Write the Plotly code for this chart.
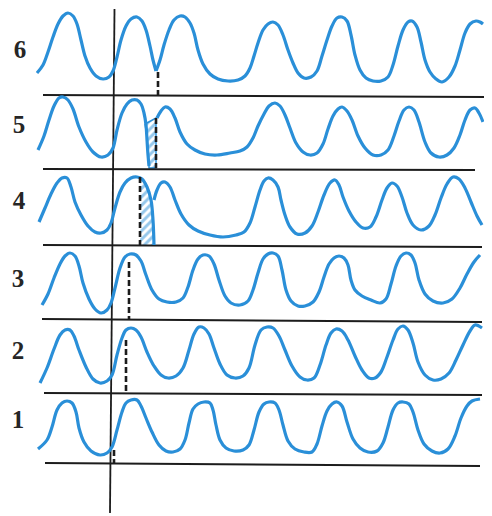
import plotly.graph_objects as go

# ---------------- data (drawing units) ----------------
row_labels = ["1", "2", "3", "4", "5", "6"]
label_x = [18, 18, 18, 19, 19, 20]
label_y = [422, 353, 281, 203, 127, 52]

# baselines: (x0, y0) -> (x1, y1) per row 1..6
base_x0 = [45, 44, 42, 43, 43, 43]
base_y0 = [463, 393, 319, 245, 169, 95]
base_x1 = [480, 482, 482, 482, 475, 488]
base_y1 = [466, 395, 322, 247, 170, 97]

# dashed phase markers
mark_x = [114, 126, 129, 140, 156, 158]
mark_top = [450, 340, 262, 177, 118, 72]
mark_bot = [463, 392, 319, 245, 168, 95]

# vertical reference line
vline_x = [114.5, 110]
vline_y = [9, 513]

# ---- waveforms ----
r1_x = [38, 47, 52, 57, 62, 67, 72, 76, 79, 84, 91, 100, 107, 112, 117, 122, 126, 131, 137, 141, 146, 152, 159, 166, 173, 180, 185, 189, 193, 198, 204, 210, 213, 216, 220, 226, 234, 243, 249, 254, 259, 264, 269, 275, 279, 283, 288, 295, 304, 312, 317, 322, 327, 332, 337, 342, 347, 353, 360, 368, 377, 383, 388, 393, 398, 403, 409, 413, 418, 424, 432, 440, 448, 455, 461, 467, 472, 480]
r1_y = [449, 440, 427, 410, 403, 401, 403, 412, 428, 442, 451, 455, 453, 447, 430, 412, 403, 400, 400, 406, 418, 432, 445, 451, 452, 449, 440, 423, 409, 404, 402, 403, 410, 425, 440, 448, 451, 450, 445, 430, 412, 404, 402, 403, 410, 425, 441, 449, 452, 452, 444, 426, 411, 404, 402, 406, 422, 439, 448, 452, 451, 443, 427, 410, 403, 402, 404, 412, 430, 444, 451, 453, 449, 436, 418, 406, 401, 399]

r2_x = [40, 47, 54, 60, 65, 70, 74, 79, 86, 93, 100, 107, 112, 117, 122, 126, 131, 136, 141, 147, 154, 161, 168, 176, 183, 189, 194, 199, 204, 209, 214, 220, 227, 235, 243, 249, 255, 261, 267, 273, 279, 285, 292, 300, 307, 314, 320, 326, 331, 336, 342, 348, 355, 362, 369, 375, 381, 387, 393, 398, 403, 408, 413, 418, 425, 433, 441, 449, 456, 463, 470, 475, 482]
r2_y = [383, 368, 349, 335, 330, 330, 336, 350, 367, 379, 383, 381, 375, 355, 338, 330, 328, 330, 337, 352, 366, 375, 378, 376, 368, 350, 334, 327, 328, 334, 348, 364, 375, 378, 376, 368, 345, 330, 327, 328, 336, 350, 366, 377, 380, 378, 365, 345, 333, 329, 331, 340, 356, 370, 378, 378, 372, 357, 340, 329, 326, 330, 343, 362, 375, 380, 379, 373, 360, 345, 331, 325, 328]

r3_x = [42, 48, 54, 60, 65, 70, 75, 79, 83, 89, 95, 101, 107, 111, 115, 120, 125, 130, 136, 141, 146, 152, 159, 167, 176, 183, 188, 193, 198, 203, 209, 214, 219, 225, 231, 240, 248, 253, 258, 263, 268, 273, 278, 282, 286, 291, 298, 305, 313, 319, 324, 329, 334, 339, 344, 348, 351, 355, 362, 371, 380, 386, 391, 396, 401, 406, 411, 415, 419, 425, 433, 443, 452, 460, 467, 474, 480]
r3_y = [305, 294, 278, 264, 256, 253, 256, 266, 283, 299, 309, 313, 310, 303, 288, 268, 257, 254, 255, 261, 275, 290, 299, 302, 302, 298, 287, 270, 259, 255, 256, 264, 280, 296, 303, 305, 301, 290, 273, 259, 254, 253, 256, 270, 290, 301, 306, 306, 302, 292, 277, 264, 258, 256, 258, 265, 280, 290, 296, 300, 303, 299, 284, 266, 256, 253, 255, 263, 280, 294, 301, 303, 299, 288, 274, 262, 255]

r4a_x = [39, 45, 51, 57, 62, 67, 71, 75, 81, 88, 95, 101, 107, 111, 115, 120, 125, 131, 137, 142, 147, 151, 153, 154]
r4a_y = [222, 208, 194, 183, 178, 178, 187, 202, 215, 226, 232, 233, 230, 223, 208, 192, 183, 178, 177, 179, 187, 200, 220, 245]
r4b_x = [154, 157, 161, 165, 170, 175, 181, 189, 198, 210, 223, 236, 244, 250, 255, 260, 264, 268, 273, 278, 281, 285, 290, 297, 305, 312, 318, 324, 330, 335, 339, 343, 349, 356, 363, 370, 376, 382, 387, 392, 397, 402, 407, 413, 421, 429, 435, 441, 447, 453, 459, 465, 471, 477, 482]
r4b_y = [200, 190, 183, 182, 187, 200, 214, 225, 231, 235, 237, 235, 232, 223, 207, 190, 181, 178, 180, 187, 200, 215, 227, 234, 233, 226, 212, 195, 183, 180, 185, 197, 211, 222, 228, 227, 217, 200, 188, 183, 186, 197, 213, 225, 230, 226, 215, 198, 184, 177, 179, 188, 202, 216, 225]
hatch4_x = [140, 145, 151, 153, 154, 140, 140]
hatch4_y = [178, 183, 200, 220, 245, 245, 178]

r5a_x = [38, 44, 49, 54, 59, 63, 68, 73, 79, 86, 93, 101, 108, 113, 117, 122, 127, 132, 137, 141, 144, 146, 147, 148, 149]
r5a_y = [150, 136, 120, 106, 98, 97, 100, 109, 127, 142, 152, 157, 155, 148, 130, 113, 104, 100, 100, 104, 113, 125, 140, 155, 166]
r5b_x = [157, 161, 165, 170, 175, 180, 187, 195, 205, 217, 230, 240, 247, 253, 258, 264, 269, 275, 280, 285, 290, 296, 303, 310, 317, 323, 328, 333, 338, 342, 347, 352, 358, 365, 373, 381, 388, 394, 399, 404, 409, 414, 419, 425, 431, 439, 447, 454, 460, 465, 470, 475, 479, 483]
r5b_y = [118, 111, 107, 109, 118, 132, 144, 150, 154, 155, 153, 151, 147, 138, 126, 114, 106, 103, 106, 115, 128, 143, 152, 155, 153, 144, 129, 116, 109, 107, 111, 120, 136, 148, 155, 155, 150, 136, 121, 110, 107, 110, 122, 142, 153, 157, 155, 148, 135, 120, 110, 108, 113, 122]
hatch5_x = [145, 147, 149, 149, 156, 156, 145]
hatch5_y = [124, 137, 166, 168, 168, 118, 124]

r6a_x = [37, 43, 48, 53, 58, 63, 68, 73, 77, 81, 85, 90, 96, 103, 109, 113, 117, 121, 126, 131, 137, 142, 146, 150, 153, 156]
r6a_y = [73, 65, 52, 37, 24, 16, 13, 16, 24, 40, 56, 68, 76, 79, 77, 71, 57, 40, 26, 19, 17, 21, 30, 46, 60, 71]
r6b_x = [156, 160, 164, 169, 174, 180, 185, 190, 194, 198, 203, 210, 218, 228, 238, 245, 250, 254, 258, 263, 268, 273, 278, 283, 288, 293, 298, 304, 311, 317, 322, 327, 332, 337, 342, 347, 351, 355, 360, 366, 373, 381, 388, 393, 398, 403, 408, 412, 417, 421, 425, 430, 436, 442, 449, 455, 460, 465, 470, 476, 480, 483]
r6b_y = [71, 60, 45, 30, 20, 16, 17, 23, 33, 50, 64, 74, 79, 81, 80, 76, 68, 56, 43, 30, 24, 22, 25, 35, 50, 63, 73, 78, 77, 71, 56, 40, 26, 18, 17, 21, 35, 55, 70, 78, 81, 81, 77, 65, 46, 30, 22, 21, 27, 42, 60, 72, 79, 82, 77, 66, 50, 33, 24, 21, 22, 24]

# ---------------- styles ----------------
BLUE = "#2a8fd8"
INK = "#1c1c1c"
PAGE_MARGIN = 8  # default body margin of the html page

fig = go.Figure()

for hx, hy, lw in [(hatch4_x, hatch4_y, 0), (hatch5_x, hatch5_y, 1.5)]:
    fig.add_trace(go.Scatter(
        x=hx, y=hy, mode="lines", fill="toself",
        fillcolor="rgba(0,0,0,0)",
        fillpattern=dict(shape="/", fgcolor=BLUE, bgcolor="white", size=6, solidity=0.5),
        line=dict(color=BLUE, width=lw), hoverinfo="skip", showlegend=False))

for i in range(6):
    fig.add_trace(go.Scatter(
        x=[base_x0[i], base_x1[i]], y=[base_y0[i], base_y1[i]], mode="lines",
        line=dict(color=INK, width=2), hoverinfo="skip", showlegend=False))

fig.add_trace(go.Scatter(x=vline_x, y=vline_y, mode="lines",
                         line=dict(color=INK, width=1.8), hoverinfo="skip", showlegend=False))

for wx, wy in [(r1_x, r1_y), (r2_x, r2_y), (r3_x, r3_y), (r4a_x, r4a_y), (r4b_x, r4b_y),
               (r5a_x, r5a_y), (r5b_x, r5b_y), (r6a_x, r6a_y), (r6b_x, r6b_y)]:
    fig.add_trace(go.Scatter(
        x=wx, y=wy, mode="lines",
        line=dict(color=BLUE, width=3.2, shape="spline", smoothing=1.0),
        hoverinfo="skip", showlegend=False))

for i in range(6):
    fig.add_trace(go.Scatter(
        x=[mark_x[i], mark_x[i]], y=[mark_top[i], mark_bot[i]], mode="lines",
        line=dict(color=INK, width=2.6, dash="6px,3px"), hoverinfo="skip", showlegend=False))

fig.add_trace(go.Scatter(
    x=label_x, y=label_y, mode="text", text=[f"<b>{t}</b>" for t in row_labels],
    textfont=dict(family="Liberation Serif", size=25, color="#262626"),
    textposition="middle center", hoverinfo="skip", showlegend=False))

W, H = 492, 516
fig.update_layout(
    width=W - PAGE_MARGIN, height=H - PAGE_MARGIN,
    margin=dict(l=0, r=0, t=0, b=0),
    paper_bgcolor="white", plot_bgcolor="white",
    xaxis=dict(range=[PAGE_MARGIN, W], visible=False, fixedrange=True),
    yaxis=dict(range=[H, PAGE_MARGIN], visible=False, fixedrange=True),
)

fig.write_html("out.html")
